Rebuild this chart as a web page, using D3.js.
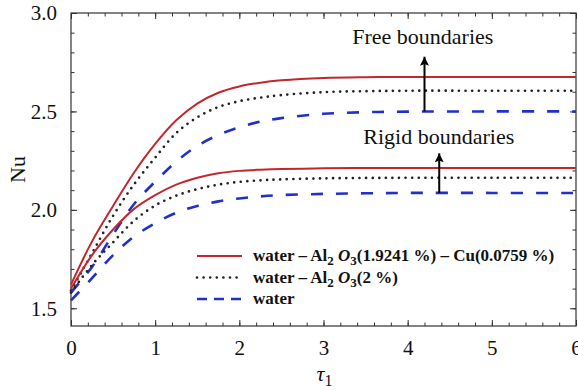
<!DOCTYPE html>
<html>
<head>
<meta charset="utf-8">
<script src="https://cdn.jsdelivr.net/npm/d3@7"></script>
<style>
  body { margin: 0; background: #fff; }
  svg { display: block; }
</style>
</head>
<body>
<svg id="chart" width="578" height="390"></svg>
<script>
// tau_1 sample points
const tau = [0, 0.25, 0.5, 0.75, 1, 1.25, 1.5, 1.75, 2, 2.25, 2.5, 3, 3.5, 4, 5, 6];

// free boundaries
const freeHybrid = [1.62, 1.84, 2.02, 2.19, 2.335, 2.455, 2.54, 2.595, 2.627, 2.646, 2.658, 2.670, 2.674, 2.675, 2.675, 2.675];
const freeAl2O3  = [1.59, 1.78, 1.97, 2.13, 2.265, 2.39, 2.47, 2.522, 2.552, 2.570, 2.583, 2.598, 2.603, 2.605, 2.605, 2.605];
const freeWater  = [1.58, 1.71, 1.875, 2.03, 2.143, 2.245, 2.325, 2.38, 2.42, 2.448, 2.466, 2.488, 2.496, 2.499, 2.50, 2.50];

// rigid boundaries
const rigidHybrid = [1.60, 1.77, 1.90, 2.005, 2.075, 2.128, 2.163, 2.186, 2.198, 2.204, 2.208, 2.211, 2.213, 2.213, 2.213, 2.213];
const rigidAl2O3  = [1.58, 1.72, 1.835, 1.945, 2.022, 2.072, 2.105, 2.128, 2.142, 2.150, 2.155, 2.160, 2.162, 2.163, 2.163, 2.163];
const rigidWater  = [1.54, 1.653, 1.77, 1.865, 1.932, 1.985, 2.02, 2.043, 2.058, 2.068, 2.075, 2.081, 2.084, 2.086, 2.086, 2.086];

const xTicks = [0, 1, 2, 3, 4, 5, 6];
const yTicks = [1.5, 2.0, 2.5, 3.0];

const legendLabels = [
  [{t: "water – Al"}, {t: "2", sub: true}, {t: " "}, {t: "O", it: true}, {t: "3", sub: true}, {t: "(1.9241 %) – Cu(0.0759 %)"}],
  [{t: "water – Al"}, {t: "2", sub: true}, {t: " "}, {t: "O", it: true}, {t: "3", sub: true}, {t: "(2 %)"}],
  [{t: "water"}]
];

const styles = [
  {stroke: "#c1272d", width: 2, dash: null, cap: "butt"},
  {stroke: "#222", width: 2.7, dash: "0,6.6", cap: "round"},
  {stroke: "#1f30cc", width: 2.6, dash: "12,13", cap: "butt"}
];

const svg = d3.select("#chart");
const serif = '"Liberation Serif", "Times New Roman", serif';

const x = d3.scaleLinear().domain([0, 6]).range([71, 576]);
const y = d3.scaleLinear().domain([1.41, 3.0]).range([326, 13]);

const line = d3.line()
  .x((d, i) => x(tau[i]))
  .y(d => y(d))
  .curve(d3.curveCatmullRom.alpha(0.5));

// frame with inward ticks on all four sides
const x0 = x.range()[0], x1 = x.range()[1], y0 = y.range()[0], y1 = y.range()[1];
const minorX = d3.range(0, 6.001, 0.2);
const minorY = d3.range(1.5, 3.001, 0.1);

const axisStyle = g => {
  g.select(".domain").remove();
  g.selectAll("line").attr("stroke", "#333");
  g.selectAll("text").attr("font-family", serif).attr("font-size", 21).attr("fill", "#111");
};

svg.append("g").attr("transform", `translate(0,${y0})`)
  .call(d3.axisBottom(x).tickValues(minorX).tickSize(-3.5).tickFormat(""))
  .call(axisStyle);
svg.append("g").attr("transform", `translate(0,${y0})`)
  .call(d3.axisBottom(x).tickValues(xTicks).tickSize(-6).tickPadding(14).tickFormat(d3.format("d")))
  .call(axisStyle);
svg.append("g").attr("transform", `translate(0,${y1})`)
  .call(d3.axisTop(x).tickValues(minorX).tickSize(-3.5).tickFormat(""))
  .call(axisStyle);
svg.append("g").attr("transform", `translate(0,${y1})`)
  .call(d3.axisTop(x).tickValues(xTicks).tickSize(-6).tickFormat(""))
  .call(axisStyle);

svg.append("g").attr("transform", `translate(${x0},0)`)
  .call(d3.axisLeft(y).tickValues(minorY).tickSize(-3.5).tickFormat(""))
  .call(axisStyle);
svg.append("g").attr("transform", `translate(${x0},0)`)
  .call(d3.axisLeft(y).tickValues(yTicks).tickSize(-6).tickPadding(14).tickFormat(d3.format(".1f")))
  .call(axisStyle);
svg.append("g").attr("transform", `translate(${x1},0)`)
  .call(d3.axisRight(y).tickValues(minorY).tickSize(-3.5).tickFormat(""))
  .call(axisStyle);
svg.append("g").attr("transform", `translate(${x1},0)`)
  .call(d3.axisRight(y).tickValues(yTicks).tickSize(-6).tickFormat(""))
  .call(axisStyle);

svg.append("rect")
  .attr("x", x0).attr("y", y1)
  .attr("width", x1 - x0).attr("height", y0 - y1)
  .attr("fill", "none").attr("stroke", "#333").attr("stroke-width", 1.2);

// curves
const series = [
  [freeHybrid, 0], [freeAl2O3, 1], [freeWater, 2],
  [rigidHybrid, 0], [rigidAl2O3, 1], [rigidWater, 2]
];

svg.append("g").selectAll("path")
  .data(series)
  .join("path")
  .attr("d", d => line(d[0]))
  .attr("fill", "none")
  .attr("stroke", d => styles[d[1]].stroke)
  .attr("stroke-width", d => styles[d[1]].width)
  .attr("stroke-dasharray", d => styles[d[1]].dash)
  .attr("stroke-linecap", d => styles[d[1]].cap);

// annotations
svg.append("defs").append("marker")
  .attr("id", "head")
  .attr("viewBox", "0 0 10 10")
  .attr("refX", 10).attr("refY", 5)
  .attr("markerWidth", 9).attr("markerHeight", 9)
  .attr("markerUnits", "userSpaceOnUse")
  .attr("orient", "auto")
  .append("path").attr("d", "M0,0L10,5L0,10L2,5Z").attr("fill", "#000");

const arrows = [
  {tx: 4.2, from: 2.50, to: 2.778},
  {tx: 4.375, from: 2.086, to: 2.287}
];
svg.append("g").selectAll("line")
  .data(arrows)
  .join("line")
  .attr("x1", d => x(d.tx)).attr("x2", d => x(d.tx))
  .attr("y1", d => y(d.from)).attr("y2", d => y(d.to))
  .attr("stroke", "#000").attr("stroke-width", 2)
  .attr("marker-end", "url(#head)");

const notes = [
  {text: "Free boundaries", tx: 4.18, ty: 2.84},
  {text: "Rigid boundaries", tx: 4.37, ty: 2.335}
];
svg.append("g").selectAll("text")
  .data(notes)
  .join("text")
  .attr("x", d => x(d.tx)).attr("y", d => y(d.ty))
  .attr("text-anchor", "middle")
  .attr("font-family", serif).attr("font-size", 22).attr("fill", "#111")
  .text(d => d.text);

// axis titles
svg.append("text")
  .attr("transform", `translate(25,${(y0 + y1) / 2}) rotate(-90)`)
  .attr("text-anchor", "middle")
  .attr("font-family", serif).attr("font-size", 22).attr("fill", "#111")
  .text("Nu");

const xt = svg.append("text")
  .attr("x", x(3) - 7).attr("y", 381)
  .attr("font-family", serif).attr("font-size", 22).attr("fill", "#111");
xt.append("tspan").attr("font-style", "italic").text("τ");
xt.append("tspan").attr("dy", 5).attr("font-size", 16).text("1");

// legend
const legend = svg.append("g");
const rowY = [256, 277.5, 299];
legendLabels.forEach((parts, i) => {
  const s = styles[i];
  legend.append("line")
    .attr("x1", 197).attr("x2", 242)
    .attr("y1", rowY[i]).attr("y2", rowY[i])
    .attr("stroke", s.stroke).attr("stroke-width", s.width)
    .attr("stroke-dasharray", i === 2 ? "10,7" : s.dash)
    .attr("stroke-linecap", s.cap);
  const t = legend.append("text")
    .attr("x", 253).attr("y", rowY[i] + 5)
    .attr("font-family", serif).attr("font-size", 17)
    .attr("font-weight", "bold").attr("fill", "#111");
  let shifted = false;
  parts.forEach(p => {
    const span = t.append("tspan").text(p.t);
    if (p.it) span.attr("font-style", "italic");
    if (p.sub) {
      span.attr("font-size", 13).attr("dy", 4);
      shifted = true;
    } else if (shifted) {
      span.attr("dy", -4);
      shifted = false;
    }
  });
});
</script>
</body>
</html>
